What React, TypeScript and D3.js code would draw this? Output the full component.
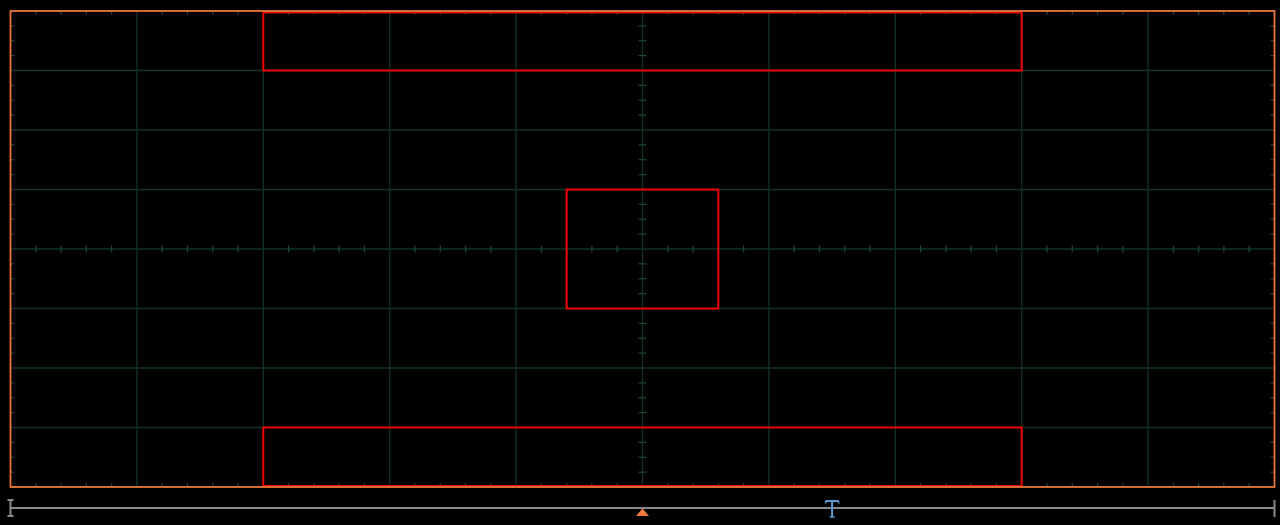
import React from "react";
import * as d3 from "d3";

// Screen: 10 horizontal divisions, 8 vertical divisions
const xDivs = [-5, -4, -3, -2, -1, 0, 1, 2, 3, 4, 5];
const yDivs = [-4, -3, -2, -1, 0, 1, 2, 3, 4];
const xMinorPerDiv = 5;
const yMinorPerDiv = 4;

// Mask regions (division units): [x0, x1, y0, y1]
const maskTop = [-3, 3, 3, 4];
const maskCenter = [-0.6, 0.6, -1, 1];
const maskBottom = [-3, 3, -4, -3];
const masks = [maskTop, maskCenter, maskBottom];

// Markers (division units)
const triggerPos = 0;
const triggerTimeMarker = 1.5;

const W = 1280;
const H = 525;

export default function App() {
  const x = d3.scaleLinear().domain([-5, 5]).range([10.5, 1274.5]);
  const y = d3.scaleLinear().domain([-4, 4]).range([487, 11]);

  const gridColor = "#123424";
  const tickColor = "#1d4a33";

  const xMinor: number[] = [];
  for (let i = -5 * xMinorPerDiv; i <= 5 * xMinorPerDiv; i++) {
    if (i % xMinorPerDiv !== 0) xMinor.push(i / xMinorPerDiv);
  }
  const yMinor: number[] = [];
  for (let i = -4 * yMinorPerDiv; i <= 4 * yMinorPerDiv; i++) {
    if (i % yMinorPerDiv !== 0) yMinor.push(i / yMinorPerDiv);
  }

  const barY = 508;
  const tx = x(triggerTimeMarker);
  const px = x(triggerPos);

  return (
    <svg
      width={W}
      height={H}
      style={{ position: "absolute", left: 0, top: 0, background: "#000", display: "block" }}
    >
      <rect x={0} y={0} width={W} height={H} fill="#000" />
      {/* grid */}
      {xDivs.slice(1, -1).map((d) => (
        <line key={"gx" + d} x1={x(d)} x2={x(d)} y1={y(4)} y2={y(-4)} stroke={gridColor} strokeWidth={1.3} />
      ))}
      {yDivs.slice(1, -1).map((d) => (
        <line key={"gy" + d} x1={x(-5)} x2={x(5)} y1={y(d)} y2={y(d)} stroke={gridColor} strokeWidth={1.3} />
      ))}
      {/* minor ticks on center axes */}
      {xMinor.map((d) => (
        <line key={"cx" + d} x1={x(d)} x2={x(d)} y1={y(0) - 3.5} y2={y(0) + 3.5} stroke={tickColor} strokeWidth={1.2} />
      ))}
      {yMinor.map((d) => (
        <line key={"cy" + d} x1={x(0) - 4} x2={x(0) + 4} y1={y(d)} y2={y(d)} stroke={tickColor} strokeWidth={1.2} />
      ))}
      {/* minor ticks on edges */}
      {xMinor.map((d) => (
        <g key={"ex" + d}>
          <line x1={x(d)} x2={x(d)} y1={y(4)} y2={y(4) + 4} stroke={tickColor} strokeWidth={1.2} />
          <line x1={x(d)} x2={x(d)} y1={y(-4)} y2={y(-4) - 4} stroke={tickColor} strokeWidth={1.2} />
        </g>
      ))}
      {yMinor.map((d) => (
        <g key={"ey" + d}>
          <line x1={x(-5)} x2={x(-5) + 4} y1={y(d)} y2={y(d)} stroke={tickColor} strokeWidth={1.2} />
          <line x1={x(5)} x2={x(5) - 4} y1={y(d)} y2={y(d)} stroke={tickColor} strokeWidth={1.2} />
        </g>
      ))}
      {/* masks */}
      {masks.map((m, i) => (
        <rect
          key={"m" + i}
          x={x(m[0])}
          y={y(m[3]) + (m[3] === 4 ? 1.5 : 0)}
          width={x(m[1]) - x(m[0])}
          height={y(m[2]) - y(m[3]) - (m[3] === 4 ? 1.5 : 0) - (m[2] === -4 ? 1 : 0)}
          fill="none"
          stroke="#ee0000"
          strokeWidth={2}
        />
      ))}
      {/* border */}
      <rect x={x(-5)} y={y(4)} width={x(5) - x(-5)} height={y(-4) - y(4)} fill="none" stroke="#e8773a" strokeWidth={1.8} />
      {/* bottom time bar */}
      <line x1={x(-5)} x2={x(5)} y1={barY} y2={barY} stroke="#8a8a8a" strokeWidth={2} />
      {/* left I marker */}
      <line x1={x(-5)} x2={x(-5)} y1={500} y2={516} stroke="#8a8a8a" strokeWidth={2} />
      <line x1={x(-5) - 3} x2={x(-5) + 3} y1={500} y2={500} stroke="#8a8a8a" strokeWidth={2} />
      <line x1={x(-5) - 3} x2={x(-5) + 3} y1={516} y2={516} stroke="#8a8a8a" strokeWidth={2} />
      {/* right end marker */}
      <line x1={x(5)} x2={x(5)} y1={500} y2={517} stroke="#8a8a8a" strokeWidth={2} />
      {/* trigger position triangle */}
      <path d={`M${px - 6.5},516 L${px},508.5 L${px + 6.5},516 Z`} fill="#f07c3c" />
      {/* T marker */}
      <line x1={tx - 6.5} x2={tx + 6.5} y1={501} y2={501} stroke="#5b9bd5" strokeWidth={2} />
      <line x1={tx} x2={tx} y1={501} y2={517} stroke="#5b9bd5" strokeWidth={2} />
      <line x1={tx - 6.5} x2={tx - 6.5} y1={501} y2={503.5} stroke="#5b9bd5" strokeWidth={1.5} />
      <line x1={tx + 6.5} x2={tx + 6.5} y1={501} y2={503.5} stroke="#5b9bd5" strokeWidth={1.5} />
      <line x1={tx - 2.5} x2={tx + 2.5} y1={517} y2={517} stroke="#5b9bd5" strokeWidth={1.5} />
    </svg>
  );
}
